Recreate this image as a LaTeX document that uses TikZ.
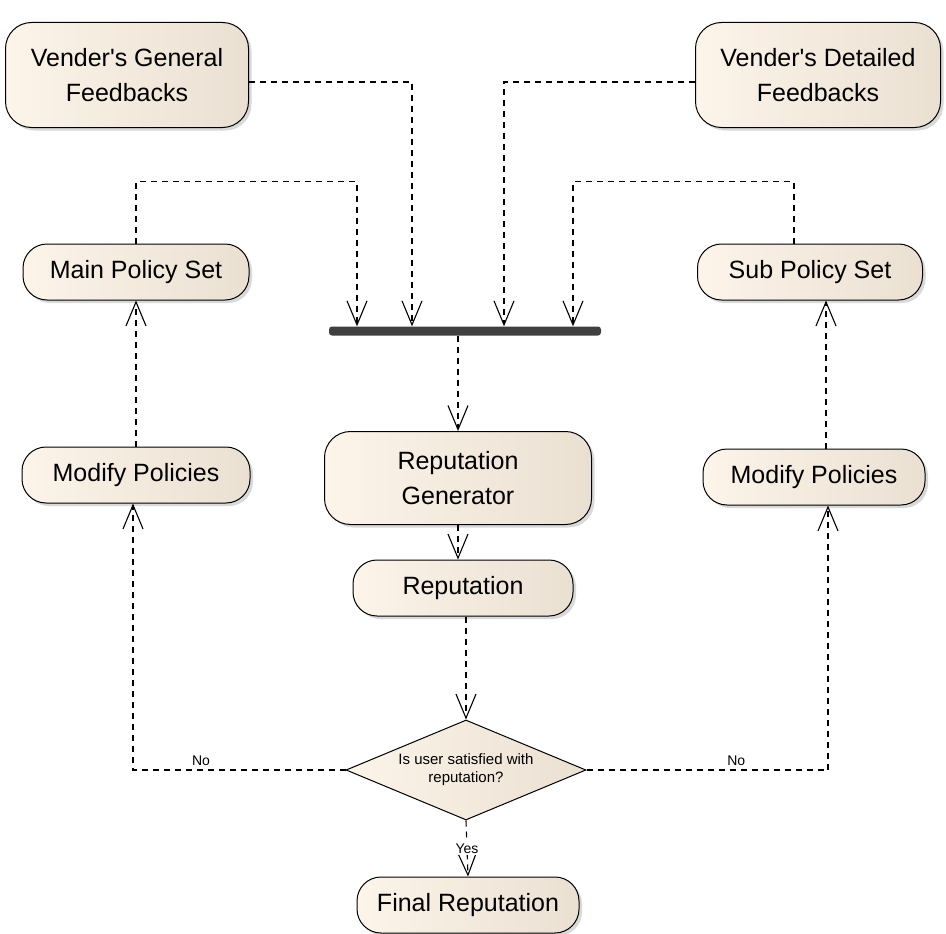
\documentclass[tikz,border=0pt]{standalone}
\usepackage{fontspec}
\setmainfont{Liberation Sans}
\usepackage{xcolor}
\usepackage{tikz}
\usetikzlibrary{shapes.geometric, arrows.meta, positioning, shadows}

\definecolor{boxleft}{RGB}{253,244,234}
\definecolor{boxright}{RGB}{234,224,210}

\begin{document}
\begin{tikzpicture}[
    x=1pt, y=-1pt,
    block/.style={rectangle, draw, line width=1pt, left color=boxleft, right color=boxright, align=center, rounded corners=26pt, inner sep=0pt, font=\fontsize{25}{35}\selectfont, drop shadow={shadow xshift=3pt, shadow yshift=-3pt, opacity=0.3}},
    pill/.style={block, rounded corners=24pt, minimum height=56pt},
    decision/.style={diamond, aspect=2.4, draw, line width=1pt, left color=boxleft, right color=boxright, align=center, inner sep=0pt, minimum width=240pt, minimum height=100pt, font=\fontsize{15}{18}\selectfont},
    syncbar/.style={rectangle, fill=black!75, rounded corners=3pt, minimum width=272pt, minimum height=9pt, inner sep=0pt},
    line/.style={draw, dashed, dash pattern=on 6pt off 5pt, line width=1.1pt, -{Straight Barb[length=24pt,width=20pt]}},
    lbl/.style={font=\fontsize{14}{16}\selectfont}
]
\useasboundingbox (0,0) rectangle (946,934);

% Process blocks
\node[block, minimum width=243pt, minimum height=105pt] (general) at (127,75) {Vender\textquotesingle s General\\Feedbacks};
\node[block, minimum width=245pt, minimum height=105pt] (detailed) at (818,75) {Vender\textquotesingle s Detailed\\Feedbacks};
\node[pill, minimum width=226pt] (mainset) at (136,272) {Main Policy Set};
\node[pill, minimum width=225pt] (subset) at (810,272) {Sub Policy Set};
\node[syncbar] (bar) at (465,331) {};
\node[block, minimum width=267pt, minimum height=93pt] (generator) at (458,478) {Reputation\\Generator};
\node[pill, minimum width=220pt] (rep) at (463,588) {Reputation};
\node[decision] (satisfied) at (466,770) {Is user satisfied with\\reputation?};
\node[pill, minimum width=222pt] (final) at (468,905) {Final Reputation};
\node[pill, minimum width=228pt] (modleft) at (136,475) {Modify Policies};
\node[pill, minimum width=222pt] (modright) at (814,477) {Modify Policies};

% Connections into the bar
\draw[line] ([yshift=-7pt]general.east) -| ([xshift=-53pt]bar.north);
\draw[line] ([yshift=-7pt]detailed.west) -| ([xshift=39pt]bar.north);
\draw[line] (mainset.north) -- ++(0,-62) -| ([xshift=-108pt]bar.north);
\draw[line] ([xshift=-16pt]subset.north) -- ++(0,-62) -| ([xshift=108pt]bar.north);

% Main flow
\draw[line] (bar.south -| generator.north) -- (generator.north);
\draw[line] (generator.south) -- (generator.south |- rep.north);
\draw[line] (satisfied.north |- rep.south) -- (satisfied.north);
\draw[line] (satisfied.south) -- node[lbl, fill=white, inner sep=2pt, pos=0.5] {Yes} (final.north);

% Feedback loops
\draw[line] (satisfied.west) -| node[lbl, above, pos=0.34] {No} ([xshift=-3pt]modleft.south);
\draw[line] (satisfied.east) -| node[lbl, above, pos=0.31] {No} ([xshift=14pt]modright.south);
\draw[line] (modleft.north) -- (mainset.south);
\draw[line] ([xshift=12pt]modright.north) -- ([xshift=16pt]subset.south);

\end{tikzpicture}
\end{document}
